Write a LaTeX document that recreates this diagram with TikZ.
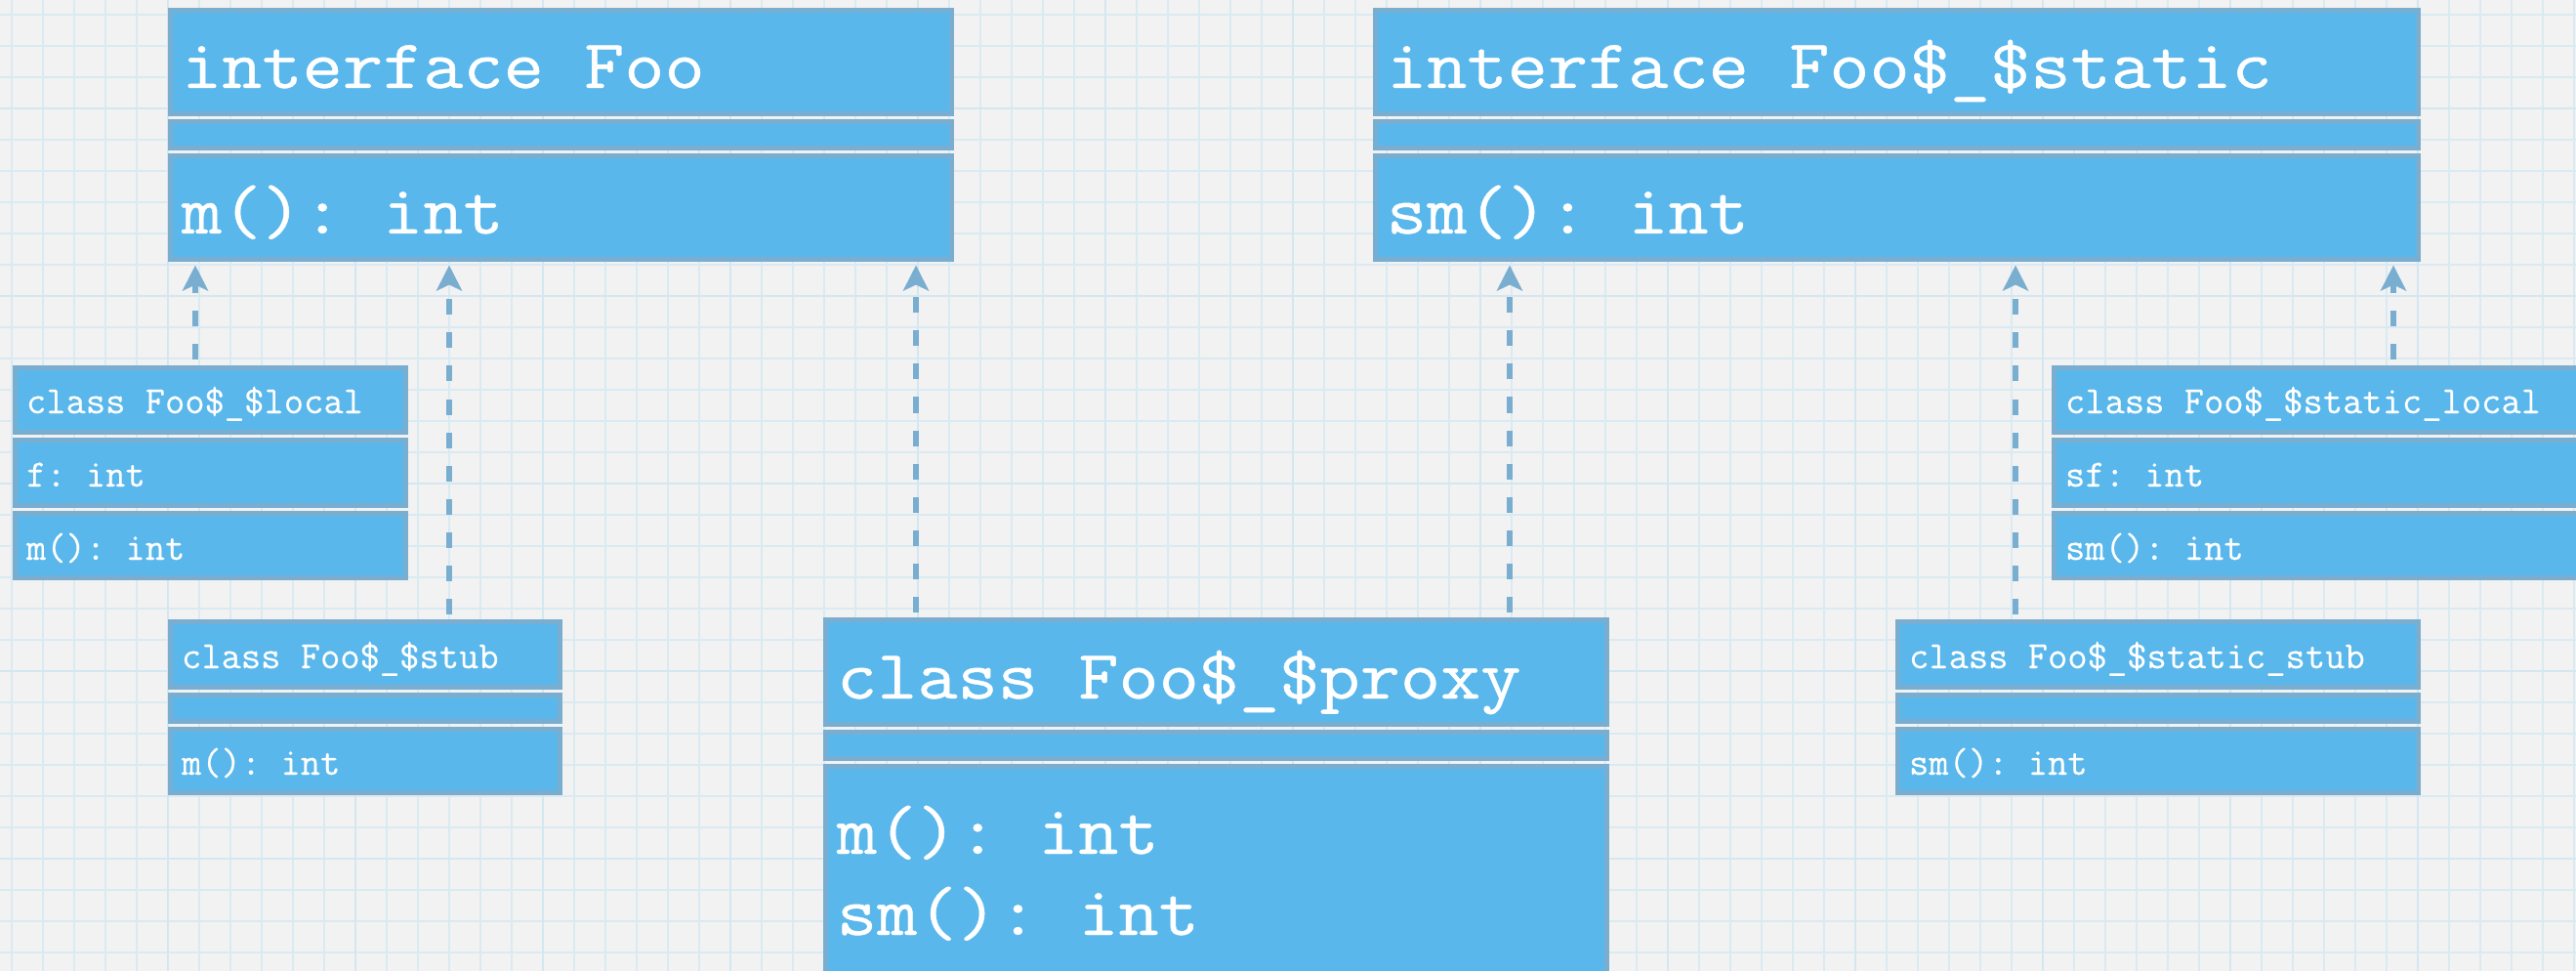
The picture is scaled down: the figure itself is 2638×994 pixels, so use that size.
\documentclass[tikz,border=0pt]{standalone}
\usepackage{fontspec}
\newfontfamily\umlbig[FakeStretch=1.127,FakeBold=0.6]{Latin Modern Mono}
\newfontfamily\umlsmall[FakeBold=0.3]{Latin Modern Mono}
\usetikzlibrary{arrows.meta}
\definecolor{bgc}{HTML}{F2F2F2}
\definecolor{gridminor}{HTML}{D9EAF2}
\definecolor{gridmajor}{HTML}{D4E7F1}
\definecolor{boxfill}{HTML}{59B7EB}
\definecolor{boxline}{HTML}{79AED1}
\newcommand{\ucomp}[5]{\node[comp,minimum width={(#4-#2-5)*0.5pt},minimum height={(#5-#3-5)*0.5pt}] (#1) at ({#2+2.5},{#3+2.5}) {};}
\begin{document}
\frenchspacing
\begin{tikzpicture}[x=0.5pt,y=-0.5pt,
  comp/.style={rectangle,draw=boxline,line width=2.5pt,fill=boxfill,anchor=north west,inner sep=0pt,outer sep=0pt},
  bigtxt/.style={anchor=base west,inner sep=0pt,outer sep=0pt,text=white,font=\umlbig\fontsize{35.5pt}{40pt}\selectfont\frenchspacing},
  smalltxt/.style={anchor=base west,inner sep=0pt,outer sep=0pt,text=white,font=\umlsmall\fontsize{19.7pt}{22pt}\selectfont\frenchspacing},
  gminor/.style={draw=gridminor,line width=1.1pt},
  gmajor/.style={draw=gridmajor,line width=1.4pt},
  dep/.style={draw=boxline,line width=2.8pt,dash pattern=on 8pt off 9pt,-{Stealth[length=13pt,width=13pt,inset=3pt]},shorten >=3pt,shorten <=4pt}]
\useasboundingbox (0,0) rectangle (2638,994);
\clip (0,0) rectangle (2638,994);
\fill[bgc] (0,0) rectangle (2638,994);
% grid
\foreach \i in {0,...,82} {\draw[gminor] ({12+32*\i},0) -- ({12+32*\i},994);}
\foreach \j in {0,...,31} {\draw[gminor] (0,{15+32*\j}) -- (2638,{15+32*\j});}
\foreach \i in {0,...,13} {\draw[gmajor] ({-20+192*\i},0) -- ({-20+192*\i},994);}
\foreach \j in {0,...,5} {\draw[gmajor] (0,{-81+192*\j}) -- (2638,{-81+192*\j});}
% compartments
\ucomp{Ah}{172}{8}{977}{119}
\ucomp{Ae}{172}{122}{977}{154}
\ucomp{Am}{172}{157}{977}{268}
\ucomp{Bh}{1406}{8}{2479}{119}
\ucomp{Be}{1406}{122}{2479}{154}
\ucomp{Bm}{1406}{157}{2479}{268}
\ucomp{Ch}{13}{374}{418}{445}
\ucomp{Cf}{13}{448}{418}{520}
\ucomp{Cm}{13}{523}{418}{594}
\ucomp{Dh}{172}{634}{576}{706}
\ucomp{De}{172}{709}{576}{741}
\ucomp{Dm}{172}{744}{576}{814}
\ucomp{Eh}{843}{632}{1648}{744}
\ucomp{Ee}{843}{747}{1648}{779}
\ucomp{Em}{843}{782}{1648}{1004}
\ucomp{Fh}{2101}{374}{2650}{445}
\ucomp{Ff}{2101}{448}{2650}{520}
\ucomp{Fm}{2101}{523}{2650}{594}
\ucomp{Gh}{1941}{634}{2479}{706}
\ucomp{Ge}{1941}{709}{2479}{741}
\ucomp{Gm}{1941}{744}{2479}{814}
% texts
\node[bigtxt] (tAh) at (186,90) {interface Foo};
\node[bigtxt] (tAm) at (186,239) {m(): int};
\node[bigtxt] (tBh) at (1420,90) {interface Foo\$\_\$static};
\node[bigtxt] (tBm) at (1420,239) {sm(): int};
\node[bigtxt] (tEh) at (857,715) {class Foo\$\_\$proxy};
\node[bigtxt] (tEm1) at (857,874) {m(): int};
\node[bigtxt] (tEm2) at (857,957) {sm(): int};
\node[smalltxt] (tCh) at (27,423) {class Foo\$\_\$local};
\node[smalltxt] (tCf) at (27,498) {f: int};
\node[smalltxt] (tCm) at (27,573) {m(): int};
\node[smalltxt] (tDh) at (186,684) {class Foo\$\_\$stub};
\node[smalltxt] (tDm) at (186,793) {m(): int};
\node[smalltxt] (tFh) at (2115,423) {class Foo\$\_\$static\_local};
\node[smalltxt] (tFf) at (2115,498) {sf: int};
\node[smalltxt] (tFm) at (2115,573) {sm(): int};
\node[smalltxt] (tGh) at (1955,684) {class Foo\$\_\$static\_stub};
\node[smalltxt] (tGm) at (1955,793) {sm(): int};
% arrow columns
\coordinate (X1) at (200,0);
\coordinate (X2) at (460,0);
\coordinate (X3) at (938,0);
\coordinate (X4) at (1546,0);
\coordinate (X5) at (2064,0);
\coordinate (X6) at (2451,0);
\draw[dep] (Ch.north -| X1) -- (Am.south -| X1);
\draw[dep] (Dh.north -| X2) -- (Am.south -| X2);
\draw[dep] (Eh.north -| X3) -- (Am.south -| X3);
\draw[dep] (Eh.north -| X4) -- (Bm.south -| X4);
\draw[dep] (Gh.north -| X5) -- (Bm.south -| X5);
\draw[dep] (Fh.north -| X6) -- (Bm.south -| X6);
\end{tikzpicture}
\end{document}
